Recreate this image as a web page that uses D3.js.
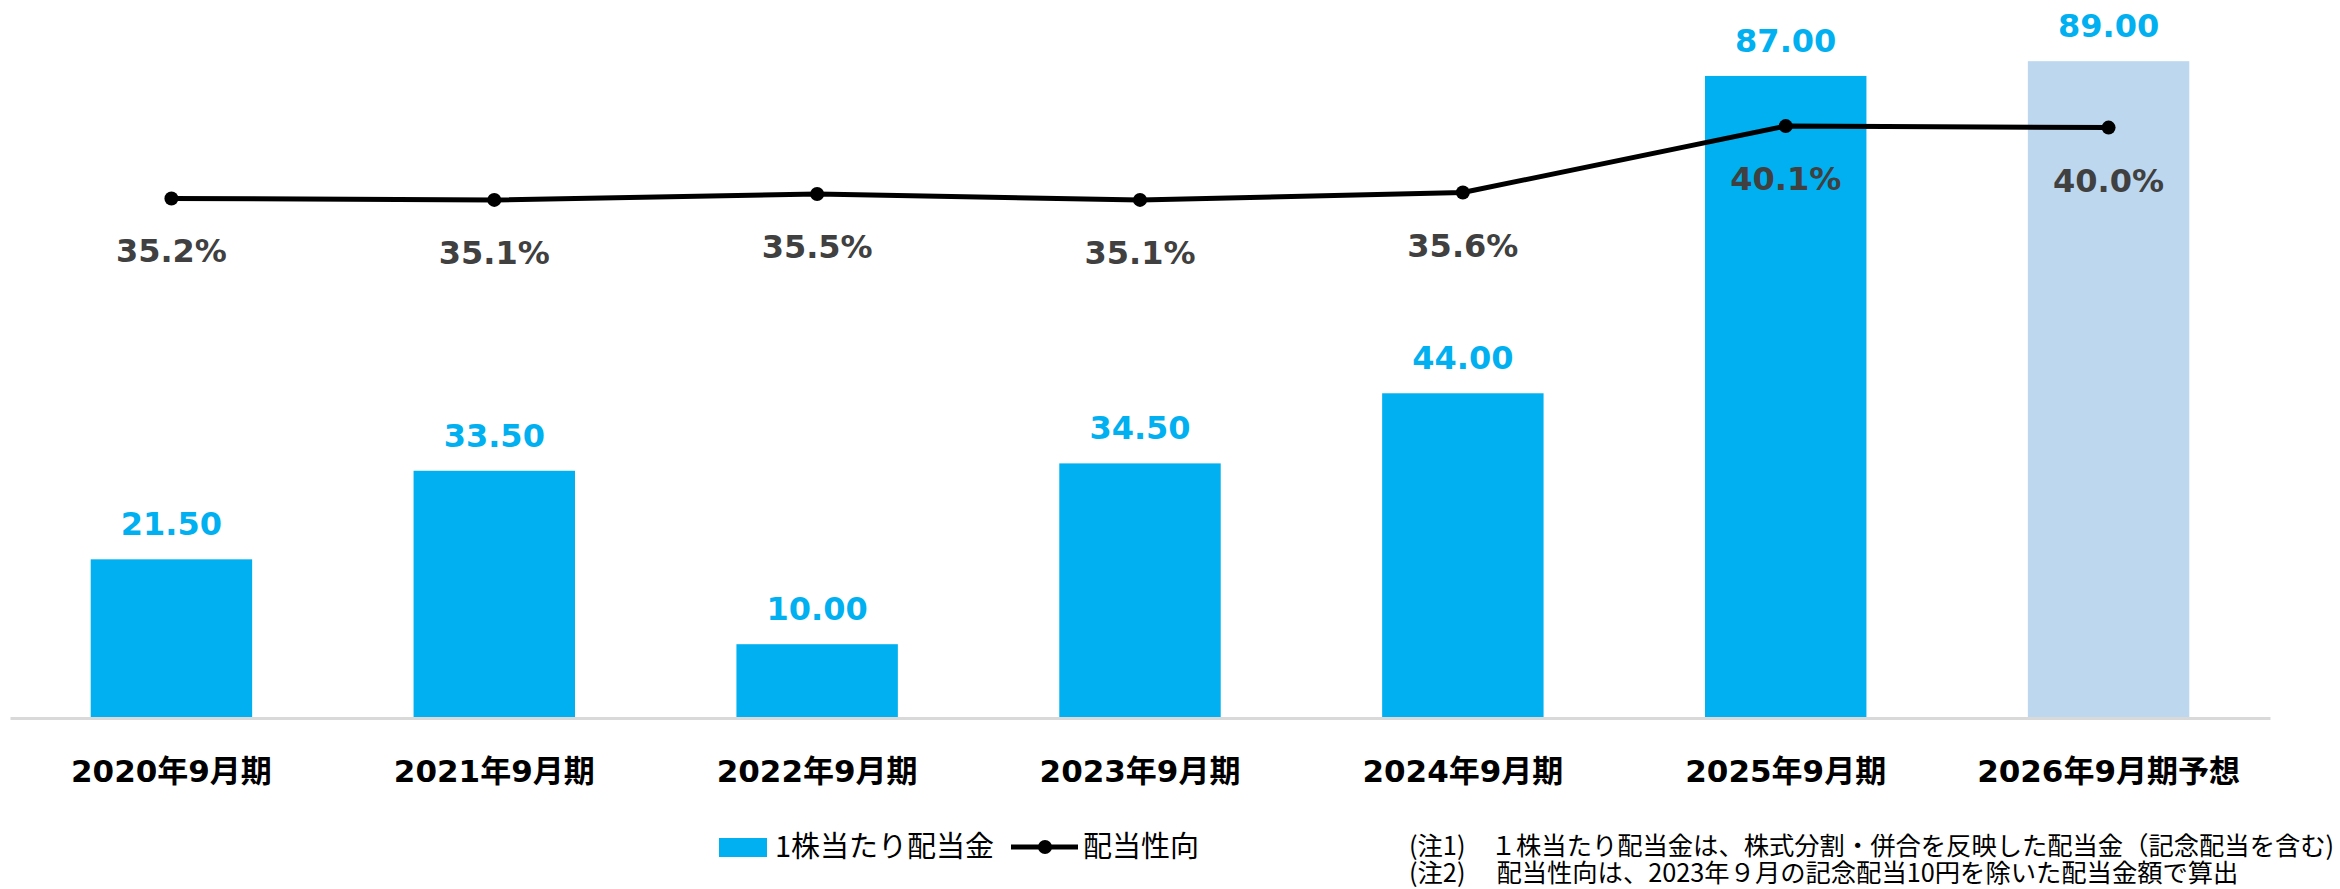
<!DOCTYPE html>
<html>
<head>
<meta charset="utf-8">
<script src="https://cdn.jsdelivr.net/npm/d3@7"></script>
<style>
  body { margin: 0; background: #fff; }
  svg { display: block; }
</style>
</head>
<body>
<div id="chart"></div>
<script>
// data
const categories = ["2020年9月期", "2021年9月期", "2022年9月期", "2023年9月期", "2024年9月期", "2025年9月期", "2026年9月期予想"];
const dividends = [21.5, 33.5, 10.0, 34.5, 44.0, 87.0, 89.0];
const payoutRatios = [35.2, 35.1, 35.5, 35.1, 35.6, 40.1, 40.0];
const legendLabels = ["1株当たり配当金", "配当性向"];
const notes = [
  "(注1)　１株当たり配当金は、株式分割・併合を反映した配当金（記念配当を含む)",
  "(注2)　 配当性向は、2023年９月の記念配当10円を除いた配当金額で算出"
];

const width = 2340, height = 889;
const baseY = 718;
const blue = "#00B0F0", lightBlue = "#BDD7EE";
const latin = "'DejaVu Sans', 'Noto Sans CJK JP', sans-serif";
const cjk = "'Noto Sans CJK JP', sans-serif";

const svg = d3.select("#chart").append("svg")
  .attr("width", width)
  .attr("height", height);

svg.append("rect").attr("width", width).attr("height", height).attr("fill", "#fff");

const x = d3.scaleBand()
  .domain(categories)
  .range([10, 2270])
  .paddingInner(0.5)
  .paddingOuter(0.25);

const yBar = d3.scaleLinear().domain([0, 100]).range([baseY, -20]);
const yPct = d3.scaleLinear().domain([0, 50]).range([baseY, -20]);

const rows = categories.map((c, i) => ({ cat: c, div: dividends[i], pct: payoutRatios[i], forecast: c.includes("予想") }));

// bars
svg.selectAll(".bar").data(rows).enter().append("rect")
  .attr("class", "bar")
  .attr("x", d => x(d.cat))
  .attr("y", d => yBar(d.div))
  .attr("width", x.bandwidth())
  .attr("height", d => baseY - yBar(d.div))
  .attr("fill", d => d.forecast ? lightBlue : blue);

// x axis
const xAxis = svg.append("g")
  .attr("transform", `translate(0,${baseY})`)
  .call(d3.axisBottom(x).tickSize(0).tickPadding(42));
xAxis.select(".domain").attr("stroke", "#D9D9D9").attr("stroke-width", 3);
xAxis.selectAll("text")
  .attr("font-family", latin)
  .attr("font-weight", "bold")
  .attr("font-size", 31)
  .attr("fill", "#000");

// bar value labels
svg.selectAll(".val").data(rows).enter().append("text")
  .attr("class", "val")
  .attr("x", d => x(d.cat) + x.bandwidth() / 2)
  .attr("y", d => yBar(d.div) - 24)
  .attr("text-anchor", "middle")
  .attr("font-family", latin)
  .attr("font-weight", "bold")
  .attr("font-size", 32)
  .attr("fill", blue)
  .text(d => d.div.toFixed(2));

// payout ratio line
const line = d3.line()
  .x(d => x(d.cat) + x.bandwidth() / 2)
  .y(d => yPct(d.pct));

svg.append("path")
  .datum(rows)
  .attr("d", line)
  .attr("fill", "none")
  .attr("stroke", "#000")
  .attr("stroke-width", 5)
  .attr("stroke-linejoin", "round");

svg.selectAll(".dot").data(rows).enter().append("circle")
  .attr("class", "dot")
  .attr("cx", d => x(d.cat) + x.bandwidth() / 2)
  .attr("cy", d => yPct(d.pct))
  .attr("r", 7)
  .attr("fill", "#000");

svg.selectAll(".pct").data(rows).enter().append("text")
  .attr("class", "pct")
  .attr("x", d => x(d.cat) + x.bandwidth() / 2)
  .attr("y", d => yPct(d.pct) + 64)
  .attr("text-anchor", "middle")
  .attr("font-family", latin)
  .attr("font-weight", "bold")
  .attr("font-size", 32)
  .attr("fill", "#404040")
  .text(d => d.pct.toFixed(1) + "%");

// legend
const lg = svg.append("g").attr("transform", "translate(719,847)");
lg.append("rect").attr("x", 0).attr("y", -9).attr("width", 48).attr("height", 19).attr("fill", blue);
lg.append("text").attr("x", 56).attr("y", 10)
  .attr("font-family", cjk).attr("font-size", 29).attr("fill", "#000")
  .text(legendLabels[0]);
lg.append("line").attr("x1", 292).attr("x2", 359).attr("y1", 0).attr("y2", 0)
  .attr("stroke", "#000").attr("stroke-width", 5);
lg.append("circle").attr("cx", 326).attr("cy", 0).attr("r", 7).attr("fill", "#000");
lg.append("text").attr("x", 364).attr("y", 10)
  .attr("font-family", cjk).attr("font-size", 29).attr("fill", "#000")
  .text(legendLabels[1]);

// notes
svg.selectAll(".note").data(notes).enter().append("text")
  .attr("class", "note")
  .attr("x", 1409)
  .attr("y", (d, i) => 855 + i * 27)
  .attr("font-family", cjk)
  .attr("font-size", 25.3)
  .attr("fill", "#000")
  .style("white-space", "pre")
  .text(d => d);
</script>
</body>
</html>
